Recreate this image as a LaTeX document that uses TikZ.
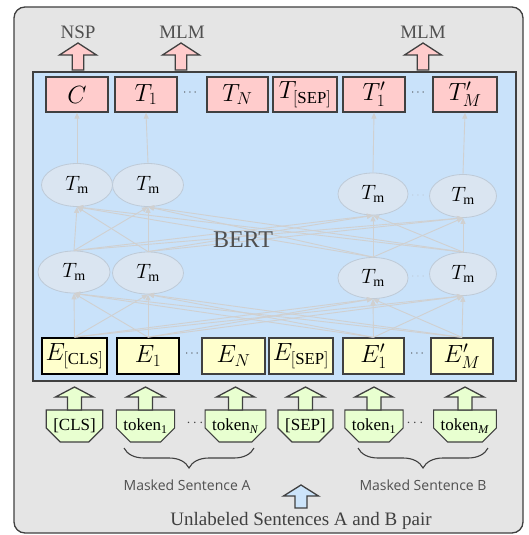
\documentclass[tikz,border=0pt]{standalone}
\usepackage{fontspec}
\setmainfont{Liberation Serif}
\newfontfamily\labelsans{Open Sans}
\usetikzlibrary{shapes.misc,shapes.geometric,decorations.pathreplacing,arrows.meta}

\definecolor{frameback}{RGB}{229,229,229}
\definecolor{framedraw}{RGB}{64,64,64}
\definecolor{bertblue}{RGB}{201,226,250}
\definecolor{outpink}{RGB}{255,204,204}
\definecolor{embyellow}{RGB}{255,255,204}
\definecolor{tokgreen}{RGB}{232,255,208}
\definecolor{trmfill}{RGB}{218,229,241}
\definecolor{trmdraw}{RGB}{190,202,215}
\definecolor{linkgray}{RGB}{208,208,208}
\definecolor{textgray}{RGB}{80,80,80}
\definecolor{inblue}{RGB}{204,228,250}

% hollow block arrow pointing up: x, tip y, base y, half head width,
% half shaft width, head length, fill colour
\newcommand\blockup[7]{%
  \draw[draw=framedraw, line width=1.3pt, fill=#7, line join=miter]
    (#1,#2) -- ++(#4,#6) -- ++(-#4+#5,0) -- (#1+#5,#3) -- (#1-#5,#3)
    -- (#1-#5,#2+#6) -- (#1-#4,#2+#6) -- cycle;}

\tikzset{
  outbox/.style={draw=framedraw, line width=1.3pt, fill=outpink, minimum height=35pt,
    inner sep=0pt, font=\fontsize{24}{24}\selectfont},
  embbox/.style={draw=framedraw, line width=1.3pt, fill=embyellow, minimum height=36pt,
    inner sep=0pt, font=\fontsize{24}{24}\selectfont},
  embboxdark/.style={embbox, draw=black, line width=1.7pt},
  trm/.style={ellipse, draw=trmdraw, line width=0.8pt, fill=trmfill, inner sep=0pt,
    font=\fontsize{20}{20}\selectfont},
  tok/.style={chamfered rectangle, chamfered rectangle corners={south west,south east},
    chamfered rectangle xsep=7pt, chamfered rectangle ysep=7pt,
    draw=framedraw, line width=1.2pt, fill=tokgreen, minimum height=32pt,
    inner sep=0pt, font=\fontsize{17}{17}\selectfont},
  link/.style={draw=linkgray, line width=0.9pt, -{Triangle[length=6pt,width=5pt]}},
  dotsdark/.style={text=framedraw, font=\fontsize{13}{13}\selectfont\bfseries},
  dotslight/.style={text=trmdraw, font=\fontsize{12}{12}\selectfont},
  headlabel/.style={text=textgray, font=\fontsize{19}{19}\selectfont},
  brc/.style={draw=framedraw, line width=1.1pt, decorate,
    decoration={brace, mirror, amplitude=20pt, aspect=0.5}},
}

\begin{document}
\begin{tikzpicture}[x=1pt, y=-1pt]
\useasboundingbox (0,0) rectangle (528,535);

% outer frame and encoder block
\draw[fill=frameback, draw=framedraw, line width=1.3pt, rounded corners=11pt]
  (14,7) rectangle (523,533);
\draw[fill=bertblue, draw=framedraw, line width=1.3pt] (33,72) rectangle (516,381);

% output row
\node[outbox, minimum width=62pt] (oc)   at (77,94.5)  {$C$};
\node[outbox, minimum width=62pt] (otone) at (146,94.5) {$T_1$};
\node[dotsdark] (odotsa) at (190,93) {$\cdots$};
\node[outbox, minimum width=61pt] (otn)  at (237.5,94.5) {$T_N$};
\node[outbox, minimum width=64pt] (otsep) at (305,94.5) {$T_{\mathrm{[SEP]}}$};
\node[outbox, minimum width=62pt] (otpone) at (374,94.5) {$T'_1$};
\node[dotsdark] (odotsb) at (418,93) {$\cdots$};
\node[outbox, minimum width=64pt] (otpm) at (465,94.5) {$T'_M$};

% task heads
\blockup{78}{43}{70}{18.5}{5.8}{12}{outpink}
\blockup{181}{43}{70}{18.5}{5.8}{12}{outpink}
\blockup{423}{43}{70}{18.5}{5.8}{12}{outpink}
\node[headlabel] (nsp)  at (78,32)  {NSP};
\node[headlabel] (mlma) at (182,32) {MLM};
\node[headlabel] (mlmb) at (423,32) {MLM};

% transformer layers
\node[trm, minimum width=71pt, minimum height=43pt] (ua) at (77,185)  {$T_{\mathrm{m}}$};
\node[trm, minimum width=71pt, minimum height=43pt] (ub) at (148,185) {$T_{\mathrm{m}}$};
\node[trm, minimum width=70pt, minimum height=42pt] (uc) at (373,194) {$T_{\mathrm{m}}$};
\node[trm, minimum width=67pt, minimum height=43pt] (ud) at (463,196) {$T_{\mathrm{m}}$};
\node[dotslight] (udots) at (418,196) {$\cdots$};

\node[trm, minimum width=72pt, minimum height=42pt] (la) at (74,272)  {$T_{\mathrm{m}}$};
\node[trm, minimum width=71pt, minimum height=42pt] (lb) at (148,273) {$T_{\mathrm{m}}$};
\node[trm, minimum width=70pt, minimum height=41pt] (lc) at (373,278) {$T_{\mathrm{m}}$};
\node[trm, minimum width=67pt, minimum height=43pt] (ld) at (463,274) {$T_{\mathrm{m}}$};
\node[dotslight] (ldots) at (418,277) {$\cdots$};

% embedding row
\node[embboxdark, minimum width=65pt] (ecls) at (74.5,356) {$E_{\mathrm{[CLS]}}$};
\node[embboxdark, minimum width=62pt] (eone) at (148,356)  {$E_1$};
\node[dotsdark] (edotsa) at (192,354) {$\cdots$};
\node[embbox, minimum width=63pt] (en)   at (233.5,356) {$E_N$};
\node[embbox, minimum width=64pt] (esep) at (301,356)   {$E_{\mathrm{[SEP]}}$};
\node[embbox, minimum width=61pt] (epone) at (373.5,356) {$E'_1$};
\node[dotsdark] (edotsb) at (417,354) {$\cdots$};
\node[embbox, minimum width=62pt] (epm)  at (462,356)   {$E'_M$};

% connections through the layers
\foreach \s in {ecls,eone,epone,epm}
  \foreach \t in {la,lb,lc,ld}
    \draw[link] (\s.north) -- (\t.south);
\foreach \s in {la,lb,lc,ld}
  \foreach \t in {ua,ub,uc,ud}
    \draw[link] (\s.north) -- (\t.south);
\draw[link] (ua.north) -- (oc.south);
\draw[link] (ub.north) -- (otone.south);
\draw[link] (uc.north) -- (otpone.south);
\draw[link] (ud.north) -- (otpm.south);

\node[text=textgray, font=\fontsize{24}{24}\selectfont] (bert) at (243,240) {BERT};

% input tokens
\node[tok, minimum width=55pt] (tcls)  at (74.5,426)  {[CLS]};
\node[tok, minimum width=55pt] (tone)  at (145.5,426) {token\textsubscript{1}};
\node[text=framedraw, font=\fontsize{15}{15}\selectfont] (tdotsa) at (195,423) {$\cdots$};
\node[tok, minimum width=55pt] (tn)    at (235.5,426) {token\textsubscript{\textit{N}}};
\node[tok, minimum width=55pt] (tsep)  at (305.5,426) {[SEP]};
\node[tok, minimum width=58pt] (tbone) at (374,426)   {token\textsubscript{1}};
\node[text=framedraw, font=\fontsize{15}{15}\selectfont] (tdotsb) at (415,423) {$\cdots$};
\node[tok, minimum width=56pt] (tm)    at (465,426)   {token\textsubscript{\textit{M}}};

\foreach \x in {74.5,145.5,235.5,305.5,374,465}{
  \blockup{\x}{387}{410}{19}{7}{10}{tokgreen}
}

% sentence grouping
\coordinate (bala) at (124,448);
\coordinate (balb) at (254,448);
\coordinate (bbla) at (358,448);
\coordinate (bblb) at (488,448);
\draw[brc] (bala) -- (balb);
\draw[brc] (bbla) -- (bblb);
\node[text=textgray, font=\labelsans\fontsize{14}{14}\selectfont] (msa) at (187,485) {Masked Sentence A};
\node[text=textgray, font=\labelsans\fontsize{14}{14}\selectfont] (msb) at (423,485) {Masked Sentence B};

\blockup{301}{485}{508}{17.5}{6}{11}{inblue}
\node[text=framedraw, font=\fontsize{19}{19}\selectfont] (pair) at (301,521) {Unlabeled Sentences A and B pair};
\end{tikzpicture}
\end{document}
